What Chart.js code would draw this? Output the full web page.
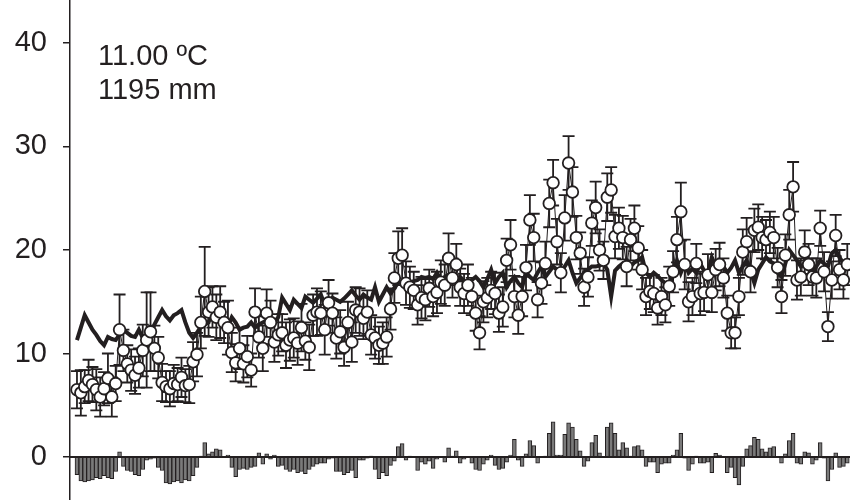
<!DOCTYPE html>
<html>
<head>
<meta charset="utf-8">
<script src="https://cdn.jsdelivr.net/npm/chart.js@4.4.1/dist/chart.umd.min.js"></script>
<style>
  html, body { margin: 0; padding: 0; background: #fff; }
  #wrap { width: 850px; height: 500px; }
</style>
</head>
<body>
<div id="wrap"><canvas id="chart" width="850" height="500"></canvas></div>
<script>
// observed values (circles)
const observed = [
  6.5, 6.2, 6.8, 7.4, 7.0, 6.5, 5.8, 6.6, 7.6, 5.8,
  7.1, 12.3, 10.3, 9.0, 8.4, 7.9, 8.6, 10.3, 11.3, 12.1,
  10.5, 9.6, 7.2, 6.8, 6.6, 7.1, 7.0, 7.7, 6.9, 7.0,
  9.2, 9.9, 13.0, 16.0, 14.0, 14.5, 13.5, 14.0, 13.0, 12.5,
  10.1, 9.1, 10.5, 9.0, 9.7, 8.4, 14.0, 11.6, 10.5, 13.9,
  13.0, 11.1, 11.8, 12.0, 10.8, 11.3, 11.5, 11.0, 12.5, 11.2,
  10.6, 13.7, 14.0, 13.9, 12.3, 14.9, 13.9, 11.5, 12.1, 10.6,
  13.0, 11.1, 14.2, 14.0, 13.4, 14.0, 11.8, 11.5, 10.8, 11.0,
  11.6, 14.3, 17.3, 19.2, 19.5, 16.8, 16.4, 16.1, 14.7, 15.4,
  15.2, 16.3, 15.5, 15.9, 16.9, 16.6, 19.2, 17.3, 18.6, 16.4,
  15.8, 16.6, 15.5, 13.9, 12.0, 15.0, 15.4, 16.1, 15.8, 13.9,
  14.5, 19.0, 20.5, 15.5, 13.7, 15.5, 18.3, 22.9, 21.2, 15.2,
  16.8, 18.7, 24.5, 26.5, 20.8, 17.8, 23.1, 28.4, 25.6, 21.2,
  19.7, 16.4, 17.4, 22.6, 24.1, 20.0, 19.0, 25.1, 25.8, 21.3,
  22.1, 21.2, 18.4, 21.0, 22.1, 20.2, 18.1, 15.5, 16.0, 15.8,
  14.4, 15.5, 14.7, 16.5, 17.9, 21.0, 23.7, 18.6, 15.0, 15.5,
  18.7, 15.8, 15.9, 17.6, 15.9, 18.1, 18.6, 17.3, 13.9, 12.0,
  12.0, 15.5, 19.8, 20.8, 17.9, 21.9, 22.2, 21.2, 21.0, 21.7,
  21.2, 18.3, 15.5, 19.5, 23.4, 26.1, 17.1, 17.4, 19.8, 18.6,
  17.4, 17.3, 22.1, 17.9, 12.6, 17.1, 21.4, 18.1, 17.1, 18.6
];

// error bar half-lengths
const errors = [
  1.8, 2.2, 1.6, 2.0, 1.7, 2.0, 1.9, 1.6, 2.4, 1.9,
  1.7, 3.4, 2.0, 1.8, 2.0, 1.8, 1.9, 2.5, 4.6, 3.8,
  2.2, 2.0, 1.8, 1.5, 1.7, 1.8, 1.6, 1.9, 1.6, 1.8,
  1.9, 2.1, 2.5, 4.3, 2.4, 2.0, 2.2, 2.5, 2.0, 2.6,
  1.9, 1.8, 2.0, 1.8, 2.0, 1.6, 2.3, 2.0, 2.2, 2.3,
  2.1, 1.9, 2.0, 1.8, 2.2, 2.0, 1.9, 2.1, 2.3, 1.8,
  2.2, 2.0, 2.3, 2.1, 2.4, 2.2, 1.9, 2.0, 2.1, 1.8,
  2.0, 1.9, 2.2, 2.3, 2.0, 2.1, 1.9, 2.0, 1.8, 2.0,
  1.9, 2.0, 2.4, 2.6, 2.6, 2.1, 2.0, 1.8, 1.9, 2.0,
  2.0, 1.8, 1.9, 2.0, 2.1, 2.0, 2.4, 1.9, 2.0, 1.8,
  1.9, 2.0, 1.8, 1.7, 1.6, 2.0, 1.9, 1.8, 2.0, 1.8,
  1.9, 2.1, 2.4, 2.0, 1.8, 1.9, 2.2, 2.4, 2.3, 1.7,
  2.0, 2.1, 2.3, 2.2, 2.2, 1.9, 2.2, 2.6, 2.4, 2.1,
  2.0, 1.8, 1.9, 2.2, 2.5, 2.0, 1.8, 2.3, 2.2, 2.1,
  2.0, 2.1, 1.9, 2.0, 2.2, 2.1, 1.9, 1.8, 1.7, 1.8,
  1.6, 1.8, 1.7, 1.9, 2.0, 2.2, 2.8, 2.4, 1.9, 1.8,
  1.9, 2.1, 1.8, 2.0, 1.9, 2.0, 2.1, 1.9, 1.7, 1.5,
  1.5, 1.8, 2.2, 2.3, 2.0, 2.1, 2.2, 2.0, 1.9, 2.0,
  2.0, 1.9, 1.6, 2.0, 2.4, 2.4, 1.9, 1.8, 2.1, 2.0,
  1.8, 1.9, 1.7, 1.9, 1.4, 1.8, 2.0, 1.9, 1.8, 2.0
];

// long-term mean (thick line)
const meanLine = [
  11.3, 12.5, 13.7, 13.0, 12.3, 11.8, 11.2, 10.8, 11.6, 11.4,
  11.3, 11.8, 12.3, 12.0, 11.7, 11.6, 12.3, 11.5, 11.8, 12.0,
  12.8, 13.5, 14.2, 13.6, 13.2, 13.7, 13.9, 14.2, 13.0, 12.0,
  11.5, 12.0, 12.6, 12.8, 13.0, 14.2, 13.8, 13.5, 13.0, 12.6,
  13.5, 13.0, 12.3, 12.5, 12.6, 13.0, 12.5, 12.8, 13.0, 13.2,
  13.3, 13.0, 13.5, 15.4, 14.8, 14.2, 15.2, 14.8, 14.4, 15.5,
  15.2, 14.9, 15.3, 15.7, 14.7, 15.0, 15.4, 15.2, 15.0, 15.3,
  15.7, 16.1, 15.6, 15.2, 15.7, 15.4, 15.2, 16.4, 15.0, 15.7,
  16.4, 15.8, 16.3, 16.9, 16.8, 16.7, 16.8, 17.0, 17.1, 17.4,
  17.3, 17.4, 17.2, 17.8, 17.1, 17.4, 17.6, 17.4, 17.0, 17.4,
  17.0, 16.8, 17.1, 17.4, 17.0, 16.4, 17.2, 18.1, 16.8, 17.4,
  17.8, 16.4, 17.0, 17.4, 16.8, 16.4, 17.9, 17.4, 17.1, 17.8,
  18.4, 17.4, 17.9, 18.4, 18.1, 17.8, 18.4, 19.0, 17.8, 16.8,
  17.3, 17.8, 18.1, 18.4, 18.4, 18.5, 18.7, 18.1, 15.5, 18.0,
  18.4, 18.7, 18.5, 18.4, 18.8, 19.0, 19.3, 17.8, 17.4, 17.8,
  17.5, 17.1, 16.8, 16.4, 17.6, 19.0, 17.8, 18.7, 17.8, 18.2,
  17.8, 18.7, 18.0, 17.8, 19.3, 18.4, 18.6, 18.4, 17.8, 18.3,
  19.0, 17.8, 18.4, 19.0, 18.0, 16.8, 18.1, 18.7, 19.3, 18.9,
  18.7, 17.8, 17.4, 18.7, 20.0, 19.5, 19.0, 18.4, 18.7, 19.0,
  17.8, 18.4, 19.0, 18.7, 18.4, 19.7, 20.0, 19.3, 18.7, 19.0
];

// anomaly bars around zero
const anomaly = [
  -1.7, -2.3, -2.4, -2.3, -2.2, -2.0, -2.1, -1.8, -2.0, -2.1,
  -1.4, 0.5, -0.9, -1.3, -1.4, -1.7, -1.8, -1.2, -0.3, -0.2,
  -0.1, -1.0, -1.3, -2.5, -2.6, -2.4, -2.3, -2.5, -2.2, -2.3,
  -1.8, -1.0, 0.1, 1.4, 0.3, 0.5, 0.8, 0.7, 0.05, 0.2,
  -1.0, -1.9, -1.2, -1.1, -1.2, -1.0, -0.9, 0.4, -0.7, 0.3,
  -0.2, 0.2, -0.9, -0.8, -1.2, -1.4, -1.2, -1.5, -1.4, -1.6,
  -1.2, -0.9, -0.7, -0.6, -0.6, -0.2, -0.1, -1.4, -1.4, -1.7,
  -1.5, -1.3, -2.0, -0.3, -0.3, -0.1, 0.1, -1.2, -2.1, -1.5,
  -1.8, -0.8, -0.4, 1.0, 1.3, -0.3, 0.1, 0.05, -1.3, -0.5,
  -0.7, -0.4, -1.1, -0.2, 0.05, -0.5, 0.9, 0.1, 0.6, -0.6,
  -0.2, 0.05, -0.6, -1.2, -1.3, -0.7, -0.3, 0.2, -0.8, -1.2,
  -1.1, -0.5, 0.2, 1.7, -0.3, -0.9, 0.3, 1.6, 1.1, -0.6,
  0.05, 0.1, 2.3, 3.4, 0.2, 0.2, 2.2, 3.3, 2.9, 1.7,
  0.6, -0.9, -0.4, 1.4, 2.1, 0.4, 0.05, 2.9, 3.3, 2.3,
  0.7, 1.4, 0.9, 0.1, 1.0, 1.1, 0.7, -0.9, -0.5, -0.5,
  -1.5, -0.7, -0.6, -0.6, 0.2, 0.7, 2.3, -0.1, -1.3, -0.7,
  0.1, -0.6, -0.6, -0.5, -1.5, 0.35, 0.2, 0.05, -1.5, -1.0,
  -2.0, -2.7, -0.9, 0.8, 1.1, 1.9, 1.7, 0.8, 0.5, 0.9,
  1.0, 0.05, -0.6, 0.3, 1.6, 2.3, -0.6, -0.7, 0.5, 0.4,
  -0.7, -0.3, 1.4, -0.1, -2.3, -1.2, 0.4, -1.0, -0.9, -0.6
];

const yTicks = [0, 10, 20, 30, 40];
const notes = ['11.00 ºC', '1195 mm'];

const ink = '#231f20';
const font = 'Liberation Sans, Arial, sans-serif';

const toPoints = arr => arr.map((v, i) => ({ x: i, y: v }));

// zero line over the bars, error bars under the circles, text block
const extras = {
  id: 'extras',
  afterDatasetDraw(chart, args) {
    if (args.index !== 0) return;
    const { ctx, chartArea, scales: { y } } = chart;
    const y0 = y.getPixelForValue(0);
    ctx.save();
    ctx.strokeStyle = ink;
    ctx.lineWidth = 2;
    ctx.beginPath();
    ctx.moveTo(chartArea.left, y0);
    ctx.lineTo(chartArea.right, y0);
    ctx.stroke();
    ctx.restore();
  },
  beforeDatasetDraw(chart, args) {
    if (args.index !== 2) return;
    const { ctx, scales: { x, y } } = chart;
    ctx.save();
    ctx.strokeStyle = ink;
    ctx.lineWidth = 1.8;
    observed.forEach((v, i) => {
      const px = x.getPixelForValue(i);
      const top = y.getPixelForValue(v + errors[i]);
      const bot = y.getPixelForValue(v - errors[i]);
      ctx.beginPath();
      ctx.moveTo(px, top); ctx.lineTo(px, bot);
      ctx.moveTo(px - 6, top); ctx.lineTo(px + 6, top);
      ctx.moveTo(px - 6, bot); ctx.lineTo(px + 6, bot);
      ctx.stroke();
    });
    ctx.restore();
  },
  afterDraw(chart) {
    const { ctx } = chart;
    ctx.save();
    ctx.fillStyle = ink;
    ctx.font = '29px ' + font;
    ctx.textBaseline = 'alphabetic';
    ctx.fillText(notes[0], 98, 65);
    ctx.fillText(notes[1], 98, 99);
    ctx.restore();
  }
};

new Chart(document.getElementById('chart'), {
  type: 'bar',
  data: {
    datasets: [
      {
        type: 'bar',
        data: toPoints(anomaly),
        backgroundColor: '#7a7a7a',
        borderColor: ink,
        borderWidth: 1,
        barThickness: 3.9,
        order: 3
      },
      {
        type: 'line',
        data: toPoints(meanLine),
        borderColor: ink,
        borderWidth: 4,
        pointRadius: 0,
        tension: 0,
        order: 2
      },
      {
        type: 'line',
        data: toPoints(observed),
        borderColor: ink,
        borderWidth: 1,
        pointRadius: 5.8,
        pointBorderWidth: 1.8,
        pointBorderColor: ink,
        pointBackgroundColor: '#fff',
        tension: 0,
        order: 1
      }
    ]
  },
  options: {
    responsive: false,
    devicePixelRatio: 1,
    animation: false,
    layout: { padding: 0, autoPadding: false },
    plugins: { legend: { display: false }, tooltip: { enabled: false } },
    scales: {
      x: {
        type: 'linear', min: -1.8, max: 199.7, display: false,
        offset: false, bounds: 'data', grace: 0
      },
      y: {
        min: -4.15,
        max: 44.15,
        afterBuildTicks: s => { s.ticks = yTicks.map(v => ({ value: v })); },
        afterFit: s => {
          s.width = 70;
          s.paddingTop = 0; s.paddingBottom = 0;
        },
        border: { display: true, color: ink, width: 1.5 },
        grid: { drawOnChartArea: false, drawTicks: true, tickLength: 7, color: ink, lineWidth: 1.5 },
        ticks: { padding: 16, color: ink, font: { family: font, size: 29 } }
      }
    }
  },
  plugins: [extras]
});
</script>
</body>
</html>
